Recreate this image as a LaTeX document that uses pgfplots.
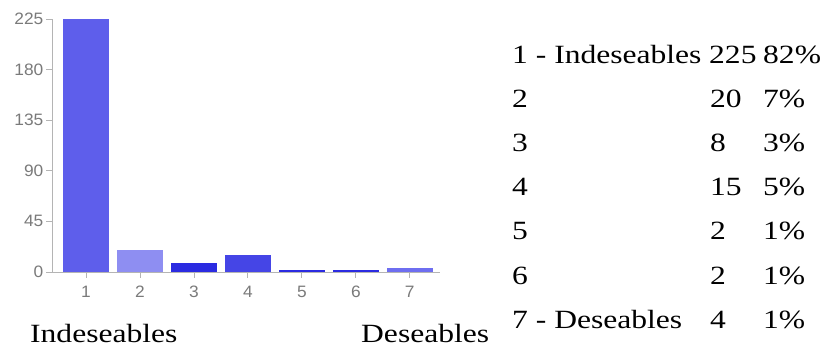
\documentclass[border=0pt]{standalone}
\usepackage{pgfplots}
\pgfplotsset{compat=1.18}
\usepackage{fontspec}
\setmainfont[FakeStretch=1.2]{Liberation Serif}
\newfontfamily\tickfont[FakeStretch=1.05]{Liberation Sans}
\definecolor{axisgray}{HTML}{B4B4B4}
\definecolor{labelgray}{HTML}{7A7A7A}
\definecolor{barA}{HTML}{5E5EEB}
\definecolor{barB}{HTML}{8E8EF2}
\definecolor{barC}{HTML}{2B2BE1}
\definecolor{barD}{HTML}{4545E6}
\definecolor{barE}{HTML}{6E6EF0}
\newcommand{\bigtext}{\fontsize{26.3}{28}\selectfont}
\begin{document}
\begin{tikzpicture}[x=1pt,y=1pt]
\useasboundingbox (0,0) rectangle (827,349);
\begin{axis}[
    at={(52pt,77pt)}, anchor=south west,
    scale only axis,
    width=388pt, height=253pt,
    xmin=0.37, xmax=7.56,
    ymin=0, ymax=225,
    axis lines*=left,
    axis line style={axisgray, line width=0.8pt},
    xtick={1,2,3,4,5,6,7},
    ytick={0,45,90,135,180,225},
    tick align=outside,
    major tick length=5.5pt,
    tick style={axisgray, line width=0.8pt},
    /pgf/number format/assume math mode=true,
    ticklabel style={font=\fontsize{16.5}{18}\selectfont\tickfont, text=labelgray, inner sep=0pt},
    xticklabel style={anchor=north, yshift=-8pt},
    yticklabel style={anchor=east, xshift=-3pt},
    clip=false,
]
\addplot[ybar, bar width=46pt, bar shift=0pt, fill=barA, draw=none] coordinates {(1,225)};
\addplot[ybar, bar width=46pt, bar shift=0pt, fill=barB, draw=none] coordinates {(2,20)};
\addplot[ybar, bar width=46pt, bar shift=0pt, fill=barC, draw=none] coordinates {(3,8)};
\addplot[ybar, bar width=46pt, bar shift=0pt, fill=barD, draw=none] coordinates {(4,15)};
\addplot[ybar, bar width=46pt, bar shift=0pt, fill=barC, draw=none] coordinates {(5,2)};
\addplot[ybar, bar width=46pt, bar shift=0pt, fill=barC, draw=none] coordinates {(6,2)};
\addplot[ybar, bar width=46pt, bar shift=0pt, fill=barE, draw=none] coordinates {(7,4)};
\end{axis}
% captions under the axis
\node[anchor=base west, inner sep=0pt, font=\bigtext] at (30,7) {Indeseables};
\node[anchor=base west, inner sep=0pt, font=\bigtext] at (361,7) {Deseables};
% summary table
\begin{scope}[every node/.style={anchor=base west, inner sep=0pt, font=\bigtext}]
\node at (512,286) {1 - Indeseables}; \node at (709,286) {225}; \node at (763,286) {82\%};
\node at (512,242) {2}; \node at (710,242) {20}; \node at (763,242) {7\%};
\node at (512,197.6) {3}; \node at (710,197.6) {8}; \node at (763,197.6) {3\%};
\node at (512,153.4) {4}; \node at (710,153.4) {15}; \node at (763,153.4) {5\%};
\node at (512,109.2) {5}; \node at (710,109.2) {2}; \node at (763,109.2) {1\%};
\node at (512,65) {6}; \node at (710,65) {2}; \node at (763,65) {1\%};
\node at (512,21) {7 - Deseables}; \node at (710,21) {4}; \node at (763,21) {1\%};
\end{scope}
\end{tikzpicture}
\end{document}
